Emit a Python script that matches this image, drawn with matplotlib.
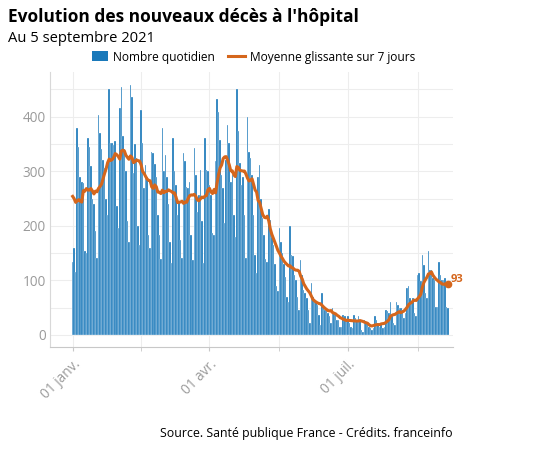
import matplotlib
matplotlib.use("Agg")
import matplotlib.dates as mdates
import matplotlib.pyplot as plt
import pandas as pd
from matplotlib.lines import Line2D
from matplotlib.patches import Patch

# Daily hospital deaths, 1 Jan -> 5 Sep 2021
daily = [
    133, 160, 116,
    380, 345, 290, 281, 279, 153, 150,
    361, 345, 310, 250, 240, 190, 141,
    404, 370, 340, 321, 306, 250, 219,
    450, 352, 352, 349, 355, 236, 196,
    416, 455, 364, 340, 300, 208, 171,
    459, 437, 297, 350, 324, 199, 165,
    413, 352, 269, 312, 290, 183, 159,
    335, 333, 313, 290, 220, 183, 140,
    379, 300, 330, 290, 240, 171, 131,
    361, 300, 275, 220, 245, 174, 141,
    333, 318, 272, 270, 280, 183, 138,
    343, 294, 226, 257, 303, 208, 131,
    361, 303, 300, 275, 257, 187, 183,
    318, 432, 409, 358, 294, 269, 205,
    321, 385, 352, 280, 294, 220, 180,
    450, 373, 315, 275, 290, 220, 141,
    399, 336, 324, 294, 220, 147, 113,
    290, 312, 250, 215, 183, 140, 134,
    230, 210, 180, 165, 130, 90, 80,
    196, 171, 150, 130, 107, 70, 61,
    199, 147, 144, 110, 100, 70, 46,
    138, 110, 83, 76, 67, 46, 21,
    95, 70, 64, 61, 55, 37, 18,
    76, 49, 46, 46, 40, 34, 22,
    50, 40, 38, 28, 28, 15, 15,
    37, 34, 28, 34, 22, 15, 12,
    37, 31, 28, 34, 28, 9, 6,
    28, 24, 21, 15, 13, 9, 12,
    34, 28, 22, 15, 22, 12, 15,
    46, 43, 40, 61, 34, 21, 18,
    61, 55, 49, 49, 45, 31, 40,
    86, 89, 67, 58, 67, 40, 35,
    110, 113, 98, 147, 128, 76, 67,
    153, 119, 119, 104, 101, 52, 52,
    134, 110, 101, 100, 105, 52, 49,
]
# last days of December 2020, only needed for the 7-day average
dec_tail = [190, 163, 360, 330, 310, 292]

start_date = "2021-01-01"
tick_dates = ["2021-01-01", "2021-04-01", "2021-07-01"]
tick_labels = ["01 janv.", "01 avr.", "01 juil."]

title = "Evolution des nouveaux décès à l'hôpital"
subtitle = "Au 5 septembre 2021"
source = "Source. Santé publique France - Crédits. franceinfo"

BLUE = "#1a79ba"
ORANGE = "#d5661c"
GREY = "#9a9a9a"

plt.rcParams["font.family"] = ["Open Sans", "DejaVu Sans"]

dates = pd.date_range(start_date, periods=len(daily), freq="D")
avg = pd.Series(dec_tail + daily).rolling(7).mean().iloc[len(dec_tail):].values

fig = plt.figure(figsize=(5.4, 4.5), dpi=100)
ax = fig.add_axes([0.0926, 0.229, 0.7463, 0.611])

ax.bar(dates, daily, width=1.0, color=BLUE, edgecolor="white", linewidth=0.2, zorder=2)
ax.plot(dates, avg, color=ORANGE, lw=2.2, zorder=3)
ax.plot(dates[-1], avg[-1], "o", color=ORANGE, ms=4.5, zorder=4)
ax.annotate(f"{avg[-1]:.0f}", (mdates.date2num(dates[-1]), avg[-1]),
            xytext=(2, 3.5), textcoords="offset points", color=ORANGE,
            fontsize=8, fontweight="bold", va="center", ha="left")

# axes limits and ticks
x0 = mdates.date2num(pd.Timestamp(start_date))
ax.set_xlim(x0 - 14.9, x0 + 250.2)
ax.set_ylim(-22, 482)

major = [mdates.date2num(pd.Timestamp(d)) for d in tick_dates]
ax.set_xticks(major)
ax.set_xticklabels(tick_labels, rotation=45, ha="right", rotation_mode="anchor")
minor = [(a + b) / 2 for a, b in zip(major, major[1:] + [mdates.date2num(pd.Timestamp("2021-10-01"))])]
ax.set_xticks(minor, minor=True)

ax.set_yticks([0, 100, 200, 300, 400])
ax.set_yticks([50, 150, 250, 350, 450], minor=True)

ax.grid(True, which="both", color="#ededed", lw=0.8, zorder=0)
ax.set_axisbelow(True)
ax.tick_params(axis="x", which="both", colors="#c8c8c8", labelcolor=GREY, labelsize=9.8, length=3, pad=4)
ax.tick_params(axis="y", which="both", length=0, labelcolor=GREY, labelsize=9.8, pad=3)

for side in ["top", "right"]:
    ax.spines[side].set_visible(False)
ax.spines["left"].set_color("#d8d8d8")
ax.spines["bottom"].set_color("#c8c8c8")

# titles
fig.text(8 / 540, 1 - 17 / 450, title, fontsize=12.5, fontweight="bold", va="center", ha="left")
fig.text(8 / 540, 1 - 38 / 450, subtitle, fontsize=10.6, va="center", ha="left")

handles = [
    Patch(facecolor=BLUE, edgecolor="none", label="Nombre quotidien"),
    Line2D([0], [0], color=ORANGE, lw=2.2, label="Moyenne glissante sur 7 jours"),
]
fig.legend(handles=handles, loc="center", bbox_to_anchor=(0.469, 1 - 57 / 450), ncol=2,
           frameon=False, fontsize=8.6, handlelength=1.4, handleheight=0.9,
           handletextpad=0.4, columnspacing=1.1, borderpad=0)

fig.text(453 / 540, 1 - 433 / 450, source, fontsize=8.9, ha="right", va="center")

fig.savefig("out.png", dpi=100)
